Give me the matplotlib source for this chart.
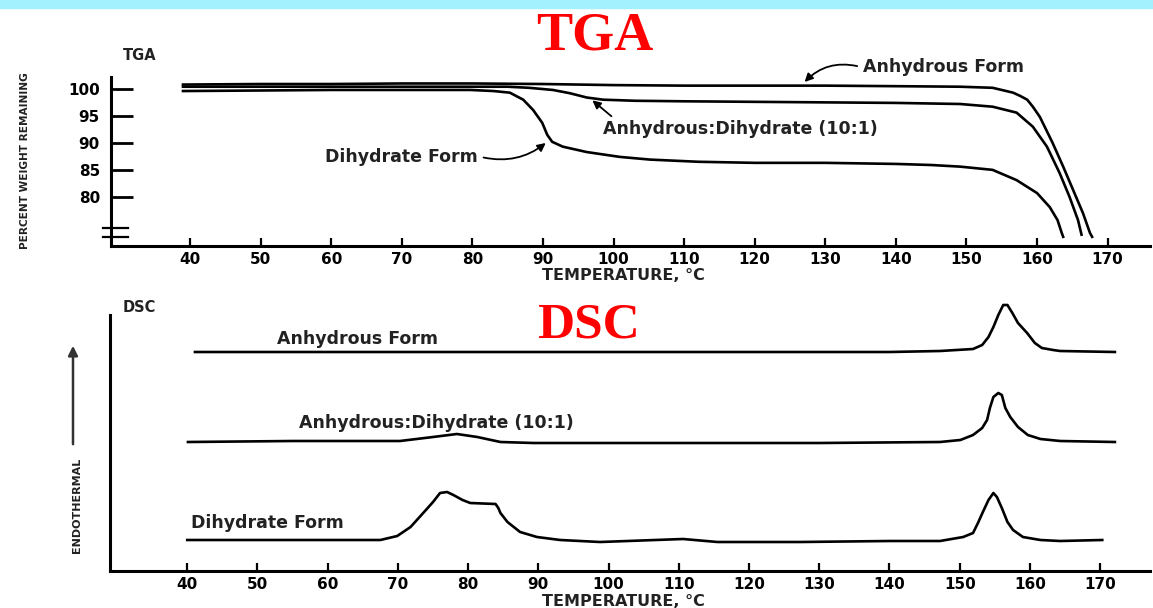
import matplotlib
matplotlib.use("Agg")
import matplotlib.pyplot as plt
from matplotlib.patches import Rectangle, FancyArrowPatch
from matplotlib import font_manager

# ---- TGA data (temperature degC, percent weight remaining) ----
t_anh = [39, 50, 60, 70, 80, 90, 100, 110, 120, 130, 140, 149.1, 153.7, 156.6,
         157.6, 158.6, 159.4, 160.4, 162.2, 163.7, 165.1, 166.5, 167.5, 167.8]
w_anh = [100.8, 100.9, 100.9, 101.0, 101.0, 100.9, 100.7, 100.6, 100.6, 100.6,
         100.5, 100.4, 100.2, 99.3, 98.7, 98.0, 96.7, 94.8, 90.0, 85.6, 81.3,
         77.0, 73.3, 72.6]

t_mix = [39, 50, 60, 70, 80, 85, 88, 91.4, 93.8, 96.2, 98.5, 103, 110, 120,
         130, 140, 149.1, 153.7, 157.1, 159.4, 161.4, 163.2, 164.6, 165.8, 166.3]
w_mix = [100.4, 100.4, 100.4, 100.4, 100.4, 100.4, 100.2, 99.8, 99.2, 98.4,
         98.0, 97.8, 97.7, 97.6, 97.5, 97.4, 97.2, 96.7, 95.6, 93.0, 89.3, 84.4,
         80.0, 75.7, 73.0]

t_dih = [39, 50, 60, 70, 79.7, 83, 85.3, 87.2, 88.6, 89.9, 90.6, 91.3, 92.8,
         96.2, 100.9, 105.2, 112, 120, 130, 140, 145, 149.1, 153.7, 157.1,
         160.0, 161.8, 162.9, 163.5, 163.7]
w_dih = [99.6, 99.7, 99.8, 99.8, 99.8, 99.6, 99.3, 98.0, 96.1, 93.7, 91.5, 90.2,
         89.3, 88.3, 87.4, 86.9, 86.5, 86.3, 86.3, 86.1, 85.9, 85.6, 85.0, 83.1,
         80.7, 78.1, 75.7, 73.3, 72.6]

# ---- DSC data (temperature degC, signal in arbitrary units) ----
t_dsc_anh = [41.1, 60, 80, 100, 120, 140, 147.2, 151.9, 153.2, 154.1, 154.8,
             155.5, 156.2, 156.8, 157.5, 158.3, 159.6, 160.7, 161.7, 163.3,
             164.3, 172.1]
h_dsc_anh = [219, 219, 219, 219, 219, 219, 220, 222, 226, 234, 244, 256, 266,
             266, 258, 248, 238, 228, 223, 221, 220, 219]

t_dsc_mix = [40.1, 55, 70.3, 75.0, 78.4, 81.3, 84.6, 89.3, 110, 130, 147.2,
             150.1, 151.9, 153.2, 153.9, 154.3, 154.8, 155.5, 156.0, 156.5,
             157.2, 158.3, 159.7, 161.5, 164.3, 172.1]
h_dsc_mix = [129, 130, 130, 134, 137, 134, 129, 128, 128, 128, 129, 131, 136,
             143, 151, 163, 174, 178, 176, 163, 154, 144, 136, 132, 130, 129]

t_dsc_dih = [40, 55, 67.5, 69.9, 71.8, 73.6, 75.0, 76.0, 77.0, 77.9, 79.2, 80.3,
             83.9, 84.3, 84.6, 85.6, 87.4, 89.8, 93.1, 98.8, 110.6, 115.5, 127.3,
             140, 147.2, 150.5, 151.9, 152.6, 153.3, 154.1, 154.8, 155.3, 156.0,
             156.8, 157.6, 159.0, 161.5, 164.3, 170.3]
h_dsc_dih = [31, 31, 31, 35, 44, 58, 69, 78, 79, 76, 71, 68, 67, 63, 58, 49, 39,
             34, 31, 29, 32, 29, 29, 30, 30, 34, 38, 48, 59, 71, 78, 74, 63, 49,
             41, 34, 31, 30, 31]

xticks = list(range(40, 171, 10))
yticks_tga = [80, 85, 90, 95, 100]

# narrow font for the rotated axis labels, if it is there
names = {f.name for f in font_manager.fontManager.ttflist}
if 'Liberation Sans Narrow' in names:
    narrow, ylab_size, endo_size = 'Liberation Sans Narrow', 10, 10.8
else:
    narrow, ylab_size, endo_size = 'DejaVu Sans', 7.6, 8.0

W, H = 1153, 608
fig = plt.figure(figsize=(W / 100, H / 100), dpi=100)
fig.patches.append(Rectangle((0, 1 - 8 / H), 1, 8 / H, transform=fig.transFigure,
                             color='#A3F1FF', zorder=0))

lab_font = dict(family='DejaVu Sans', fontweight='bold', color='#222222')


def style_axes(ax):
    for s in ['top', 'right']:
        ax.spines[s].set_visible(False)
    for s in ['left', 'bottom']:
        ax.spines[s].set_linewidth(2.2)
    ax.set_xticks(xticks)
    ax.set_xticklabels([str(t) for t in xticks], fontsize=11, fontweight='bold')
    ax.tick_params(axis='x', direction='in', length=6, width=1.6, pad=4)


# ---------------- TGA ----------------
ax1 = fig.add_axes([111 / W, 1 - 246 / H, (1150 - 111) / W, (246 - 77) / H])
ax1.set_xlim(28.8, 176.0)
ax1.set_ylim(70.9, 102.2)
for t, w in [(t_anh, w_anh), (t_mix, w_mix), (t_dih, w_dih)]:
    ax1.plot(t, w, color='black', lw=1.9)
style_axes(ax1)
ax1.set_yticks(yticks_tga)
ax1.set_yticklabels([str(v) for v in yticks_tga], fontsize=11, fontweight='bold')
ax1.tick_params(axis='y', direction='in', length=16, width=2, pad=8)

# axis break marks
for yb in [74.3, 72.6]:
    ax1.plot([-0.008, 0.016], [yb, yb], color='black', lw=1.6,
             transform=ax1.get_yaxis_transform(), clip_on=False)

arrow = dict(arrowstyle='-|>', color='black', lw=1.3, mutation_scale=12)
ax1.text(135.3, 104.1, 'Anhydrous Form', ha='left', va='center', fontsize=12.5,
         **lab_font)
ax1.annotate('', xy=(126.8, 100.9), xytext=(134.9, 104.1),
             arrowprops=dict(connectionstyle='arc3,rad=0.3', **arrow),
             annotation_clip=False)
ax1.text(98.5, 92.6, 'Anhydrous:Dihydrate (10:1)', ha='left', va='center',
         fontsize=12.5, **lab_font)
ax1.annotate('', xy=(96.7, 98.2), xytext=(100.0, 94.6), arrowprops=arrow)
ax1.text(80.8, 87.4, 'Dihydrate Form', ha='right', va='center', fontsize=12.5,
         **lab_font)
ax1.annotate('', xy=(90.7, 90.3), xytext=(81.2, 87.4),
             arrowprops=dict(connectionstyle='arc3,rad=0.25', **arrow))

fig.text(123 / W, 1 - 55 / H, 'TGA', ha='left', va='center', fontsize=10.5,
         **lab_font)
fig.text(25 / W, 1 - 161 / H, 'PERCENT WEIGHT REMAINING', rotation=90,
         ha='center', va='center', fontsize=ylab_size, family=narrow,
         fontweight='bold', color='#222222')
fig.text(623 / W, 1 - 275 / H, 'TEMPERATURE, \u00b0C', ha='center', va='center',
         fontsize=11.5, **lab_font)

# ---------------- DSC ----------------
ax2 = fig.add_axes([110 / W, 1 - 571 / H, (1150 - 110) / W, (571 - 315) / H])
ax2.set_xlim(29.0, 177.1)
ax2.set_ylim(0, 256)
for t, h in [(t_dsc_anh, h_dsc_anh), (t_dsc_mix, h_dsc_mix), (t_dsc_dih, h_dsc_dih)]:
    ax2.plot(t, h, color='black', lw=1.9, clip_on=False)
style_axes(ax2)
ax2.set_yticks([])

ax2.text(64.2, 232, 'Anhydrous Form', ha='center', va='center', fontsize=12.5,
         **lab_font)
ax2.text(75.5, 148, 'Anhydrous:Dihydrate (10:1)', ha='center', va='center',
         fontsize=12.5, **lab_font)
ax2.text(51.4, 48, 'Dihydrate Form', ha='center', va='center', fontsize=12.5,
         **lab_font)

fig.text(123 / W, 1 - 307 / H, 'DSC', ha='left', va='center', fontsize=10.5,
         **lab_font)
fig.text(77 / W, 1 - 505 / H, 'ENDOTHERMAL', rotation=90, ha='center',
         va='center', fontsize=endo_size, family=narrow, fontweight='bold',
         color='#222222')
fig.patches.append(FancyArrowPatch(
    (73 / W, 1 - 447 / H), (73 / W, 1 - 343 / H), transform=fig.transFigure,
    arrowstyle='-|>', mutation_scale=14, lw=1.8, color='#333333'))
fig.text(623 / W, 1 - 602 / H, 'TEMPERATURE, \u00b0C', ha='center', va='center',
         fontsize=11.5, **lab_font)

# red titles
fig.text(595 / W, 1 - 37 / H, 'TGA', ha='center', va='center', fontsize=39,
         family='Liberation Serif', fontweight='bold', color='red')
fig.text(588 / W, 1 - 326 / H, 'DSC', ha='center', va='center', fontsize=37,
         family='Liberation Serif', fontweight='bold', color='red')

fig.savefig('out.png', dpi=100)
